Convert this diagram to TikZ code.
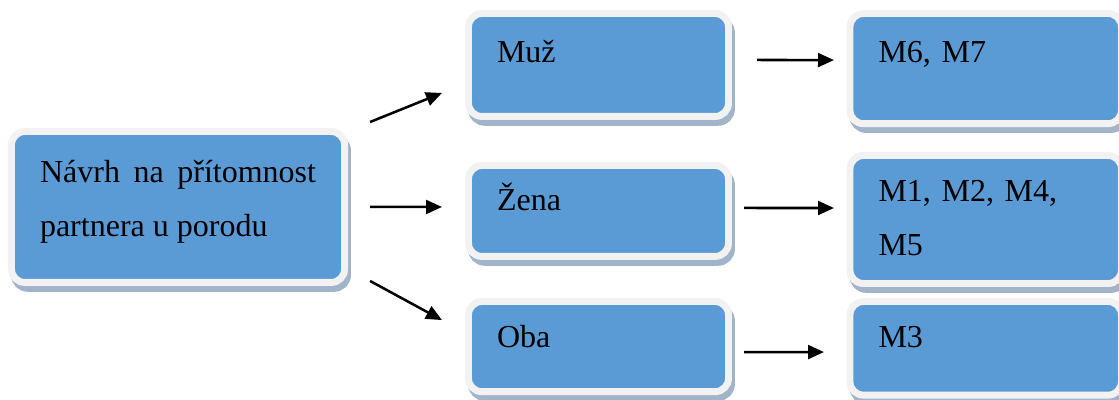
\documentclass[tikz,border=0pt]{standalone}
\usepackage{fontspec}
\setmainfont{Liberation Serif}
\usetikzlibrary{arrows.meta,shadows}

\definecolor{boxblue}{HTML}{5B9BD5}
\definecolor{rimgrey}{HTML}{F2F2F2}
\definecolor{shadeblue}{HTML}{A2B4CA}

\tikzset{
  box/.style={rectangle, rounded corners=5pt, fill=boxblue, draw=rimgrey, line width=2.6pt,
    drop shadow={shadow xshift=1.1pt, shadow yshift=-2.2pt, opacity=1,
      fill=shadeblue, draw=shadeblue, line width=2.6pt},
    anchor=north west, outer sep=0pt, inner xsep=10.7pt, inner ysep=0pt, align=left,
    font=\fontsize{12}{20}\selectfont\frenchspacing},
  arr/.style={-{Triangle[length=6pt,width=5.2pt]}, line width=0.95pt}
}

\begin{document}
\begin{tikzpicture}[x=0.375pt,y=-0.375pt]
    \useasboundingbox (0,0) rectangle (1119,399);
    \clip (0,0) rectangle (1119,399);
    % left box
    \node[box, align=justify, text width=103.5pt, text height=19.3pt, text depth=37.3pt]
        (navrh) at (11.5,131.5) {Návrh na přítomnost partnera u porodu};
    % middle column
    \node[box, text width=76.1pt, text height=18.2pt, text depth=20.4pt] (muz) at (468.5,13.5) {Muž};
    \node[box, text width=76.1pt, text height=16.7pt, text depth=17.4pt] (zena) at (468.5,165.5) {Žena};
    \node[box, text width=76.1pt, text height=17.1pt, text depth=16.7pt] (oba) at (468.5,301.5) {Oba};
    % right column
    \node[box, text width=80.4pt, text height=18.2pt, text depth=23.1pt] (m67) at (850,13.5) {M6, M7};
    \node[box, text width=80.4pt, text height=17.4pt, text depth=30.6pt] (m1245) at (850,155.5) {M1, M2, M4, M5};
    \node[box, text width=80.4pt, text height=17.1pt, text depth=18pt] (m3) at (850,301.5) {M3};

    \draw[arr] ([shift={(25.5,-9.5)}]navrh.north east) -- ([shift={(-26.5,28)}]muz.west);
    \draw[arr] ([shift={(25.5,0)}]navrh.east) -- ([shift={(-26.5,-4)}]zena.west);
    \draw[arr] ([shift={(25.5,-1.5)}]navrh.south east) -- ([shift={(-26.5,-26.5)}]oba.west);
    \draw[arr] ([shift={(28.5,-5)}]muz.east) -- ([shift={(-16,-8.5)}]m67.west);
    \draw[arr] ([shift={(15.5,-3)}]zena.east) -- ([shift={(-16,-11.5)}]m1245.west);
    \draw[arr] ([shift={(15.5,5.5)}]oba.east) -- ([shift={(-26,3.75)}]m3.west);
\end{tikzpicture}
\end{document}
